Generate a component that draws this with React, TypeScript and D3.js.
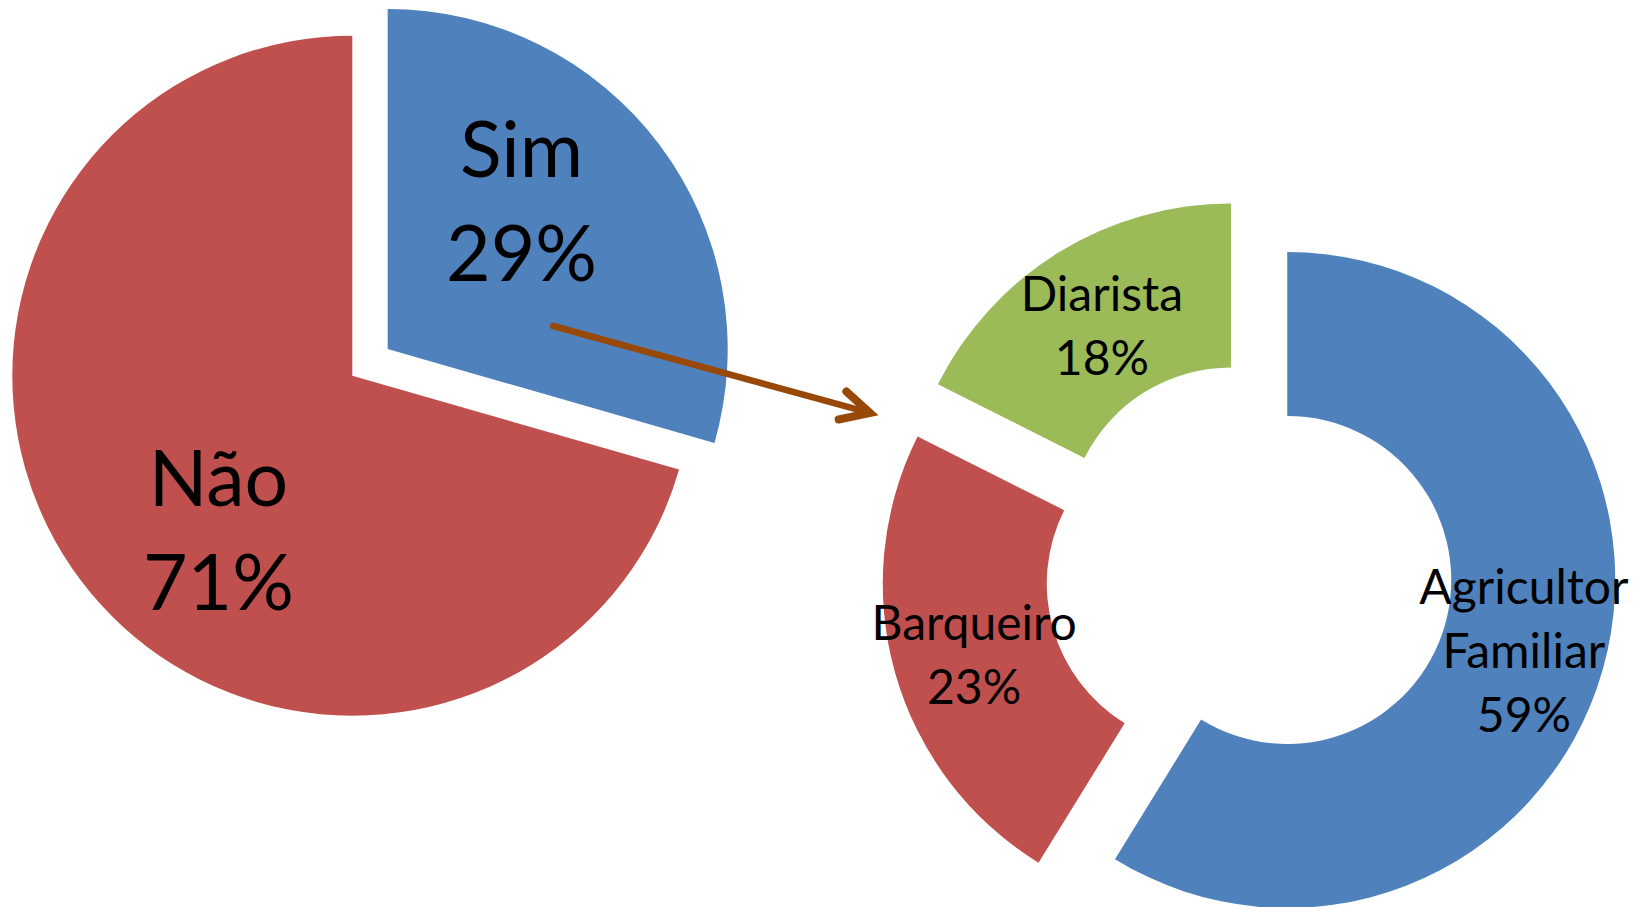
import React from 'react';
import * as d3 from 'd3';

// first pie: share answering yes / no
const pieLabels = ['Sim', 'Não'];
const pieValues = [29.45, 70.55];
const pieColors = ['#4F81BD', '#C0504D'];

// second chart: breakdown of the "Sim" group
const ringLabels = [['Agricultor', 'Familiar'], ['Barqueiro'], ['Diarista']];
const ringValues = [58.8, 23.6, 17.6];
const ringPctLabels = ['59%', '23%', '18%'];
const ringColors = ['#4F81BD', '#C0504D', '#9BBB59'];

const W = 1645;
const H = 907;

type Slice = d3.PieArcDatum<number>;

const pieGen = d3.pie<number>().sort(null).value(d => d);

const offsetOf = (d: Slice, dist: number) => {
    const mid = (d.startAngle + d.endAngle) / 2;
    return [Math.sin(mid) * dist, -Math.cos(mid) * dist];
};

const FONT = "Lato, 'Open Sans', sans-serif";

export default function App() {
    // left pie
    const pcx = 352.3, pcy = 375.7, pr = 340;
    const pieArc = d3.arc<Slice>().innerRadius(0).outerRadius(pr);
    const pieSlices = pieGen(pieValues);
    const explode = [44.3, 0];

    // right ring (Agricultor pulled out less than the others)
    const rcx = 1255.5, rcy = 571, rOut = 328, rIn = 164;
    const ringArc = d3.arc<Slice>().innerRadius(rIn).outerRadius(rOut);
    const ringSlices = pieGen(ringValues);
    const ringExplode = [33, 46.5, 46.5];

    const pieTotal = d3.sum(pieValues);
    const pct = (v: number) => d3.format('.0%')(v / pieTotal);

    // label spot for pie slices: a bit before mid angle, ~0.6 of radius
    const pieLabelPos = (d: Slice) => {
        const a = (d.startAngle + d.endAngle) / 2 - (11.5 * Math.PI) / 180;
        return [Math.sin(a) * pr * 0.594, -Math.cos(a) * pr * 0.594];
    };

    // arrow from Sim slice to the ring
    const x0 = 553, y0 = 326;
    const tipX = 870, tipY = 413;
    const ang = Math.atan2(tipY - y0, tipX - x0);
    const headLen = 32, headSpread = (27 * Math.PI) / 180;
    const h1 = [tipX - headLen * Math.cos(ang - headSpread), tipY - headLen * Math.sin(ang - headSpread)];
    const h2 = [tipX - headLen * Math.cos(ang + headSpread), tipY - headLen * Math.sin(ang + headSpread)];

    return (
        <div style={{position: 'absolute', left: 0, top: 0, width: W, height: H, background: '#fff'}}>
            <svg width={W} height={H} style={{display: 'block'}}>
                <g transform={`translate(${pcx},${pcy})`}>
                    {pieSlices.map((d, i) => {
                        const [ox, oy] = offsetOf(d, explode[i]);
                        const [lx, ly] = pieLabelPos(d);
                        return (
                            <g key={pieLabels[i]} transform={`translate(${ox},${oy})`}>
                                <path d={pieArc(d) || ''} fill={pieColors[i]} />
                                <text textAnchor="middle" fontFamily={FONT} fontSize={77} fill="#000">
                                    <tspan x={lx} y={ly - 21}>{pieLabels[i]}</tspan>
                                    <tspan x={lx} y={ly + 83}>{pct(pieValues[i])}</tspan>
                                </text>
                            </g>
                        );
                    })}
                </g>

                <g transform={`translate(${rcx},${rcy})`}>
                    {ringSlices.map((d, i) => {
                        const [ox, oy] = offsetOf(d, ringExplode[i]);
                        const [lx, ly] = ringArc.centroid(d);
                        const lines = [...ringLabels[i], ringPctLabels[i]];
                        const lh = 64;
                        const first = ly - ((lines.length - 1) * lh) / 2 + 21;
                        return (
                            <g key={ringLabels[i].join(' ')} transform={`translate(${ox},${oy})`}>
                                <path d={ringArc(d) || ''} fill={ringColors[i]} />
                                <text textAnchor="middle" fontFamily={FONT} fontSize={48} fill="#000">
                                    {lines.map((t, j) => (
                                        <tspan key={j} x={lx} y={first + j * lh}>{t}</tspan>
                                    ))}
                                </text>
                            </g>
                        );
                    })}
                </g>

                <line x1={x0} y1={y0} x2={tipX - 5 * Math.cos(ang)} y2={tipY - 5 * Math.sin(ang)}
                      stroke="#984807" strokeWidth={6.5} strokeLinecap="round" />
                <path d={`M${h1[0]},${h1[1]}L${tipX},${tipY}L${h2[0]},${h2[1]}`}
                      fill="none" stroke="#984807" strokeWidth={8}
                      strokeLinecap="round" strokeLinejoin="miter" strokeMiterlimit={10} />
            </svg>
        </div>
    );
}
